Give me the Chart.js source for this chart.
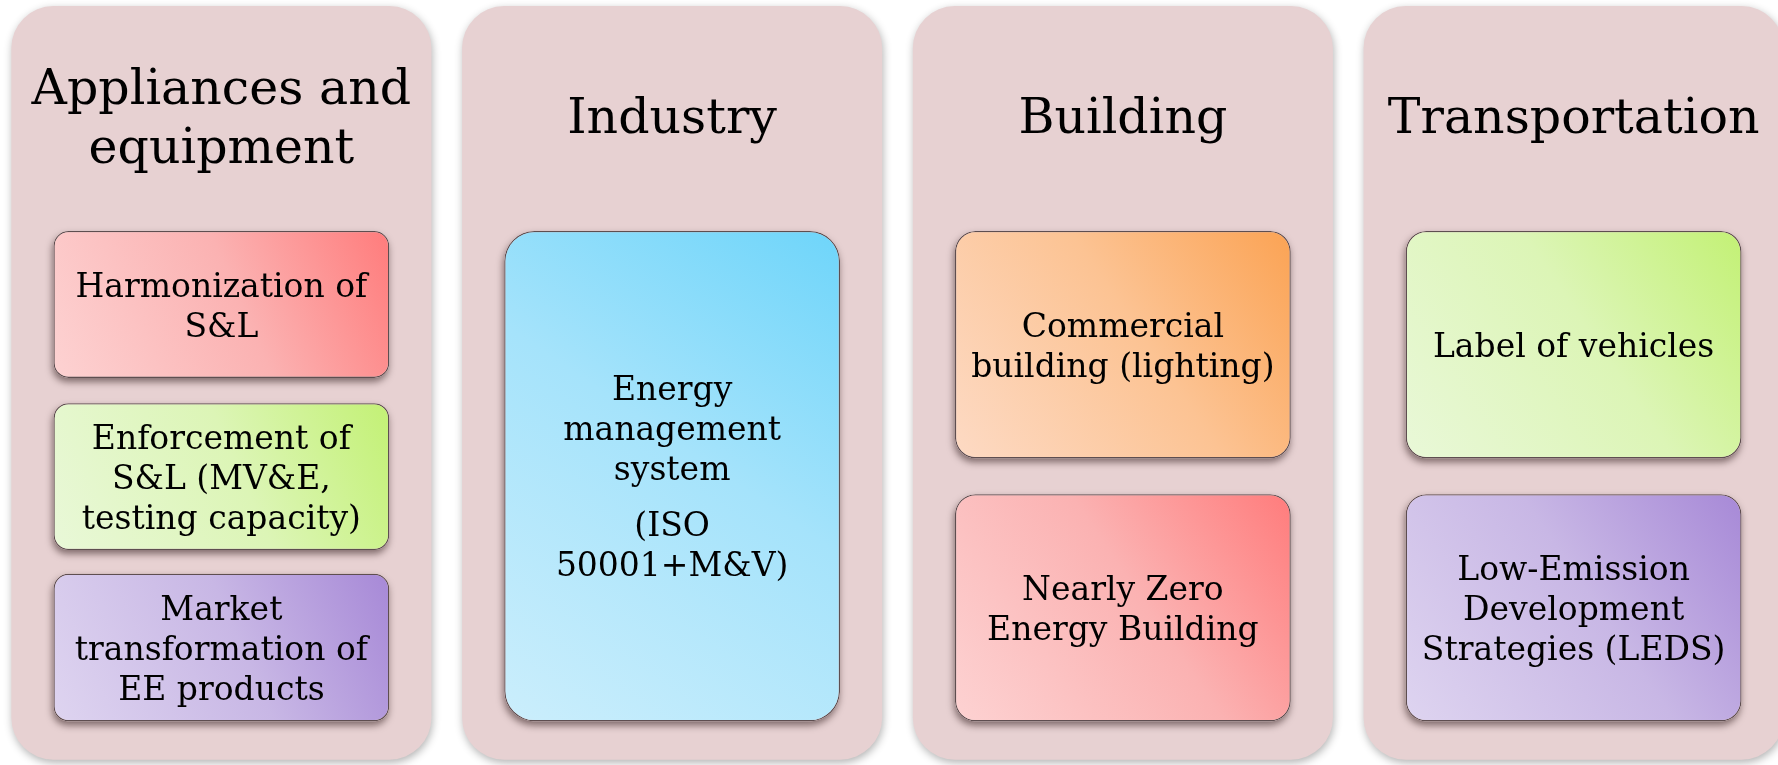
<!DOCTYPE html>
<html>
<head>
<meta charset="utf-8">
<title>Energy efficiency areas</title>
<script src="https://cdn.jsdelivr.net/npm/chart.js@4.4.1/dist/chart.umd.min.js"></script>
<style>
    html, body { margin: 0; padding: 0; background: #fff; overflow: hidden; }
    #wrap { position: absolute; left: -4px; top: 0; width: 1803px; height: 765px; }
</style>
</head>
<body>
<div id="wrap"><canvas id="diagram" width="1803" height="765"></canvas></div>
<script>
// ─── data ───────────────────────────────────────────────────────────────────
// one column per sector; boxes are floating bars on a 0..100 (top→bottom) axis

const sectors = ['Appliances and\nequipment', 'Industry', 'Building', 'Transportation'];
const panelSpan = [0.8, 99.3];

const firstItems = [
    'Harmonization of\nS&L',
    'Energy\nmanagement\nsystem\n\n(ISO\n50001+M&V)',
    'Commercial\nbuilding (lighting)',
    'Label of vehicles',
];
const firstSpan = [[30.2, 49.4], [30.2, 94.3], [30.2, 59.9], [30.2, 59.9]];

const secondItems = [
    'Enforcement of\nS&L (MV&E,\ntesting capacity)',
    null,
    'Nearly Zero\nEnergy Building',
    'Low-Emission\nDevelopment\nStrategies (LEDS)',
];
const secondSpan = [[52.7, 71.9], null, [64.6, 94.3], [64.6, 94.3]];

const thirdItems = ['Market\ntransformation of\nEE products', null, null, null];
const thirdSpan = [[75.0, 94.3], null, null, null];

// ─── styles ─────────────────────────────────────────────────────────────────

const firstTones = ['red', 'blue', 'orange', 'green'];
const secondTones = ['green', null, 'red', 'purple'];
const thirdTones = ['purple', null, null, null];

const TONES = {
    red:    ['#FDD2D2', '#FBB2B2', '#FF7C7C'],
    green:  ['#E9F8D8', '#DCF5B6', '#C3F175'],
    purple: ['#DED4F0', '#C8B7E5', '#A789D7'],
    blue:   ['#CBEEFC', '#A5E3FB', '#6ED5FA'],
    orange: ['#FDDAC4', '#FCC393', '#FBA354'],
};

const FONT = '"DejaVu Serif", "Liberation Serif", serif';
const PANEL_BG = '#E7D1D2';
const PANEL_W = 0.932;
const BOX_W = 0.745;

// ─── helpers ────────────────────────────────────────────────────────────────

function boxGeom(chart, index, raw, pct) {
    const {x, y} = chart.scales;
    if (!x || !y || !raw) return null;
    const cx = x.getPixelForValue(index);
    const half = (x.width / sectors.length) * pct / 2;
    const a = y.getPixelForValue(raw[0]);
    const b = y.getPixelForValue(raw[1]);
    const g = {left: cx - half, right: cx + half, top: Math.min(a, b), bottom: Math.max(a, b)};
    const ok = [g.left, g.right, g.top, g.bottom].every(Number.isFinite) && g.right > g.left;
    return ok ? g : null;
}

function boxFill(context) {
    const {chart, dataIndex, raw, dataset} = context;
    const tone = TONES[dataset.tones[dataIndex]] || TONES.red;
    const g = boxGeom(chart, dataIndex, raw, BOX_W);
    if (!g) return tone[1];
    const grad = chart.ctx.createLinearGradient(g.left, g.bottom, g.right, g.top);
    grad.addColorStop(0, tone[0]);
    grad.addColorStop(0.55, tone[1]);
    grad.addColorStop(1, tone[2]);
    return grad;
}

function boxRadius(context) {
    const g = boxGeom(context.chart, context.dataIndex, context.raw, BOX_W);
    if (!g) return 16;
    return Math.max(15, Math.min(g.right - g.left, g.bottom - g.top) * 0.09);
}

function boxDataset(label, span, texts, tones) {
    return {
        label,
        kind: 'box',
        data: span,
        texts,
        tones,
        backgroundColor: boxFill,
        borderColor: '#5E4E50',
        borderWidth: 1.3,
        borderSkipped: false,
        borderRadius: boxRadius,
        barPercentage: BOX_W,
        categoryPercentage: 1,
        grouped: false,
        order: 0,
    };
}

// lines split on '\n'; an empty line opens a small paragraph gap
function drawLines(ctx, text, cx, cy, size, lh, gap) {
    const lines = text.split('\n');
    const rows = [];
    let off = 0;
    lines.forEach(ln => {
        if (ln === '') { off += gap; return; }
        if (rows.length) off += lh;
        rows.push({ln, off});
    });
    const capH = size * 0.73;
    const blockH = rows[rows.length - 1].off + capH;
    const firstBase = cy - blockH / 2 + capH;
    ctx.font = `${size}px ${FONT}`;
    ctx.fillStyle = '#000';
    ctx.textAlign = 'center';
    ctx.textBaseline = 'alphabetic';
    rows.forEach(r => ctx.fillText(r.ln, cx, firstBase + r.off));
}

// ─── plugins ────────────────────────────────────────────────────────────────

// bordered bars clip to their own outline, so box shadows are cast here,
// from each element's own geometry, just before the bars are painted
const shadowPlugin = {
    id: 'softShadow',
    beforeDatasetDraw(chart, args) {
        const ds = chart.data.datasets[args.index];
        const ctx = chart.ctx;
        if (ds.kind === 'panel') {
            ctx.save();
            ctx.shadowColor = 'rgba(0,0,0,0.3)';
            ctx.shadowBlur = 9;
            ctx.shadowOffsetX = 1;
            ctx.shadowOffsetY = 3;
            return;
        }
        ctx.save();
        ctx.shadowColor = 'rgba(30,10,10,0.5)';
        ctx.shadowBlur = 7;
        ctx.shadowOffsetX = -1;
        ctx.shadowOffsetY = 4;
        ctx.fillStyle = PANEL_BG;
        args.meta.data.forEach((el, i) => {
            if (ds.data[i] == null) return;
            const {x, y, base, width} = el.getProps(['x', 'y', 'base', 'width'], true);
            const top = Math.min(y, base);
            const h = Math.abs(base - y);
            const r = el.options.borderRadius;
            const rad = typeof r === 'number' ? r : (r && r.topLeft) || 0;
            ctx.beginPath();
            ctx.roundRect(x - width / 2, top, width, h, rad);
            ctx.fill();
        });
        ctx.restore();
        ctx.save();
    },
    afterDatasetDraw(chart) {
        chart.ctx.restore();
    },
};

const textPlugin = {
    id: 'boxText',
    afterDatasetsDraw(chart) {
        const ctx = chart.ctx;
        const firstMeta = chart.getDatasetMeta(1);
        chart.data.datasets.forEach((ds, di) => {
            const meta = chart.getDatasetMeta(di);
            meta.data.forEach((el, i) => {
                if (ds.data[i] == null) return;
                const top = Math.min(el.y, el.base);
                const bottom = Math.max(el.y, el.base);
                if (ds.kind === 'panel') {
                    const first = firstMeta.data[i];
                    const boxTop = Math.min(first.y, first.base);
                    const cy = top + (boxTop - top) * 0.485;
                    drawLines(ctx, sectors[i], el.x, cy, 49, 59, 0);
                } else if (ds.texts[i]) {
                    drawLines(ctx, ds.texts[i], el.x, (top + bottom) / 2, 33, 40, 16);
                }
            });
        });
    },
};

// ─── chart ──────────────────────────────────────────────────────────────────

new Chart(document.getElementById('diagram').getContext('2d'), {
    type: 'bar',
    data: {
        labels: sectors,
        datasets: [
            {
                label: 'Sectors',
                kind: 'panel',
                data: sectors.map(() => panelSpan),
                backgroundColor: PANEL_BG,
                borderWidth: 0,
                borderSkipped: false,
                borderRadius: 42,
                barPercentage: PANEL_W,
                categoryPercentage: 1,
                grouped: false,
                order: 2,
            },
            boxDataset('First measure', firstSpan, firstItems, firstTones),
            boxDataset('Second measure', secondSpan, secondItems, secondTones),
            boxDataset('Third measure', thirdSpan, thirdItems, thirdTones),
        ],
    },
    options: {
        responsive: false,
        animation: false,
        events: [],
        layout: {padding: 0},
        plugins: {legend: {display: false}, tooltip: {enabled: false}},
        scales: {
            x: {display: false, offset: true},
            y: {display: false, min: 0, max: 100, reverse: true},
        },
    },
    plugins: [shadowPlugin, textPlugin],
});
</script>
</body>
</html>
